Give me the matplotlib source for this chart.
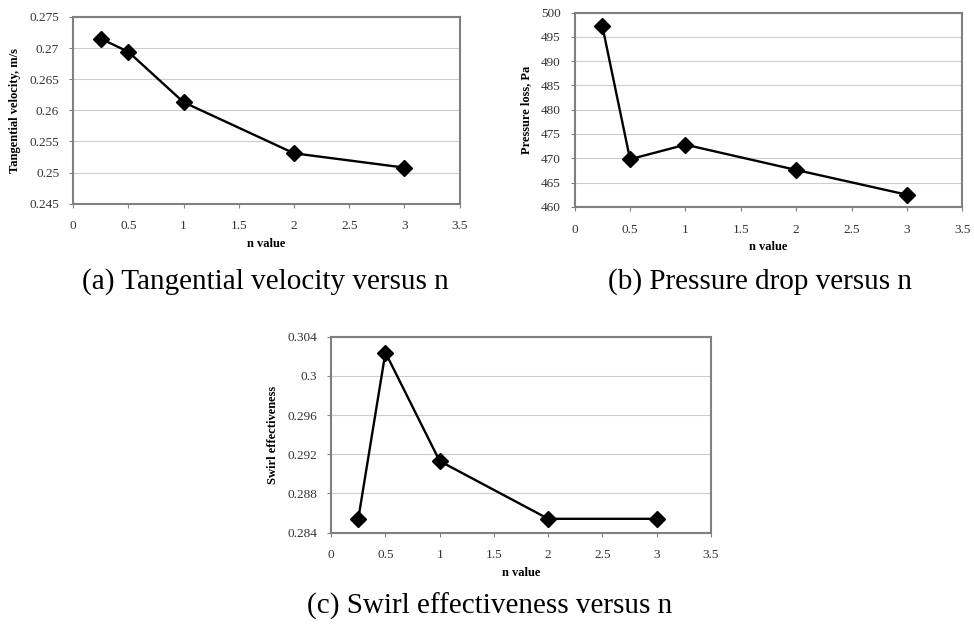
import matplotlib.pyplot as plt

plt.rcParams['font.family'] = ['Liberation Serif', 'DejaVu Serif']

n_vals = [0.25, 0.5, 1, 2, 3]
tang_vel = [0.2715, 0.2694, 0.2613, 0.2531, 0.2508]
pressure = [497.2, 469.8, 472.8, 467.6, 462.5]
swirl = [0.2854, 0.3024, 0.2913, 0.2854, 0.2854]

x_ticks = [0, 0.5, 1, 1.5, 2, 2.5, 3, 3.5]
x_ticklabels = ['0', '0.5', '1', '1.5', '2', '2.5', '3', '3.5']

panels = [
    # data, rect, ylim, yticks, yticklabels, ylabel, caption, caption pos
    (tang_vel, [0.075, 0.674, 0.397, 0.299], (0.245, 0.275),
     [0.245, 0.25, 0.255, 0.26, 0.265, 0.27, 0.275],
     ['0.245', '0.25', '0.255', '0.26', '0.265', '0.27', '0.275'],
     'Tangential velocity, m/s', '(a) Tangential velocity versus n', (0.272, 0.549)),
    (pressure, [0.590, 0.669, 0.398, 0.311], (460, 500),
     [460, 465, 470, 475, 480, 485, 490, 495, 500],
     ['460', '465', '470', '475', '480', '485', '490', '495', '500'],
     'Pressure loss, Pa', '(b) Pressure drop versus n', (0.78, 0.549)),
    (swirl, [0.340, 0.148, 0.390, 0.313], (0.284, 0.304),
     [0.284, 0.288, 0.292, 0.296, 0.3, 0.304],
     ['0.284', '0.288', '0.292', '0.296', '0.3', '0.304'],
     'Swirl effectiveness', '(c) Swirl effectiveness versus n', (0.503, 0.03)),
]

fig = plt.figure(figsize=(9.74, 6.25), dpi=100)

for data, rect, ylim, yt, ytl, ylab, cap, cpos in panels:
    ax = fig.add_axes(rect)
    ax.plot(n_vals, data, color='black', lw=1.7, marker='D', ms=8,
            markerfacecolor='black', zorder=3)
    ax.set_xlim(0, 3.5)
    ax.set_ylim(*ylim)
    ax.set_xticks(x_ticks)
    ax.set_xticklabels(x_ticklabels)
    ax.set_yticks(yt)
    ax.set_yticklabels(ytl)
    ax.yaxis.grid(True, color='#cccccc', lw=0.8)
    ax.set_axisbelow(True)
    for sp in ax.spines.values():
        sp.set_color('#808080')
        sp.set_linewidth(1.5)
    ax.tick_params(direction='out', length=3, width=0.8, color='#808080',
                   labelsize=9.5, labelcolor='#333333')
    ax.tick_params(axis='x', pad=9)
    ax.tick_params(axis='y', pad=7)
    ax.set_xlabel('n value', fontsize=9, fontweight='bold', labelpad=4)
    ax.set_ylabel(ylab, fontsize=9, fontweight='bold', labelpad=6)
    fig.text(cpos[0], cpos[1], cap, fontsize=21, ha='center', va='center')

fig.savefig('out.png', dpi=100)
